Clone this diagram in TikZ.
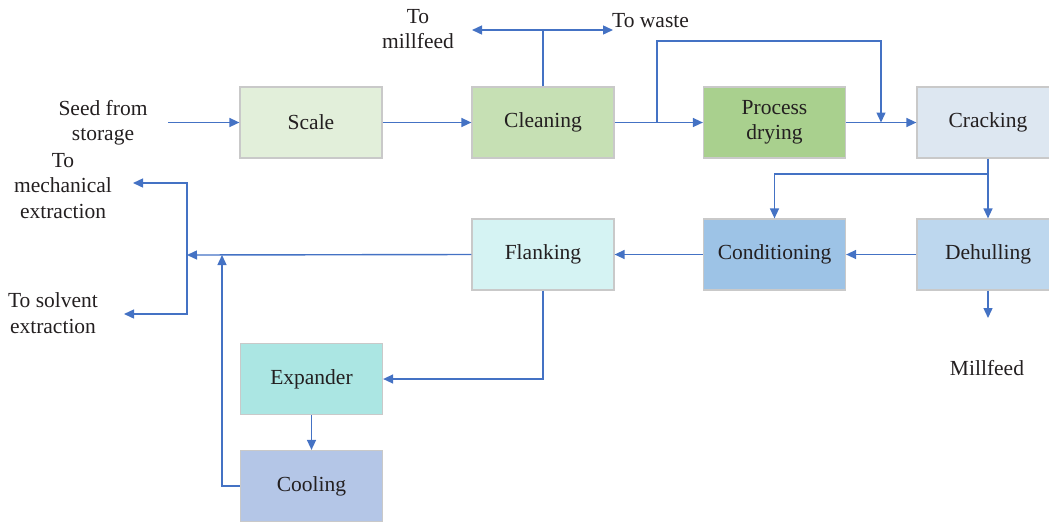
\documentclass[tikz,border=0pt]{standalone}
\usepackage{fontspec}
\setmainfont{Liberation Serif}
\usetikzlibrary{arrows.meta}
\definecolor{arrowc}{HTML}{4472C4}
\definecolor{boxline}{HTML}{C9C9C9}
\definecolor{txt}{HTML}{231F20}
\definecolor{cScale}{HTML}{E2EFDA}
\definecolor{cClean}{HTML}{C6E0B4}
\definecolor{cDry}{HTML}{A9D08E}
\definecolor{cCrack}{HTML}{DDE7F1}
\definecolor{cDehull}{HTML}{BDD7EE}
\definecolor{cCond}{HTML}{9DC3E6}
\definecolor{cFlank}{HTML}{D5F3F3}
\definecolor{cExp}{HTML}{ABE6E3}
\definecolor{cCool}{HTML}{B4C6E7}
\begin{document}
\begin{tikzpicture}[x=1pt,y=-1pt,
  every node/.style={text=txt,font=\fontsize{21.5}{25.5}\selectfont},
  procbox/.style={draw=boxline,line width=1.2pt,minimum width=142pt,minimum height=71pt,inner sep=0pt,align=center},
  lbl/.style={align=center,inner sep=0pt},
  flow/.style={draw=arrowc,line width=1.4pt},
  arr/.style={flow,-{Triangle[length=10pt,width=9pt]}}]
\useasboundingbox (0,0) rectangle (1049,523);
% boxes
\node[procbox,fill=cScale] (scale) at (311,122.5) {Scale};
\node[procbox,fill=cClean] (cleaning) at (543,122.5) {Cleaning};
\node[procbox,fill=cDry] (drying) at (774.5,122.5) {Process\\drying};
\node[procbox,fill=cCrack] (cracking) at (988,122.5) {Cracking};
\node[procbox,fill=cDehull] (dehulling) at (988,254.5) {Dehulling};
\node[procbox,fill=cCond] (conditioning) at (774.5,254.5) {Conditioning};
\node[procbox,fill=cFlank] (flanking) at (543,254.5) {Flanking};
\node[procbox,fill=cExp] (expander) at (311.5,379) {Expander};
\node[procbox,fill=cCool] (cooling) at (311.5,486) {Cooling};
% labels
\node[lbl] (seed) at (103,122.5) {Seed from\\storage};
\node[lbl] (tomill) at (418,29) {To\\millfeed};
\node[lbl,anchor=west] (towaste) at (612,21) {To waste};
\node[lbl] (millfeed) at (987,368) {Millfeed};
\node[lbl] (tomech) at (63,186) {To\\mechanical\\extraction};
\node[lbl] (tosolv) at (53,313) {To solvent\\extraction};
% coordinates
\coordinate (seedend) at (168,122.5);
\coordinate (cj) at (543,30);
\coordinate (mf) at (472,30);
\coordinate (ws) at (613,30);
\coordinate (b1) at (657,122.5);
\coordinate (b3) at (881,41);
\coordinate (b4) at (881,122.5);
\coordinate (c1) at (988,174);
\coordinate (dh) at (988,318);
\coordinate (vj) at (187,255);
\coordinate (mech) at (133,183);
\coordinate (solv) at (124,314);
\coordinate (cj2) at (222,255);
% connectors
\draw[arr] (seedend) -- (scale.west);
\draw[arr] (scale.east) -- (cleaning.west);
\draw[flow] (cleaning.north) -- (cj);
\draw[arr] (cj) -- (mf);
\draw[arr] (cj) -- (ws);
\draw[arr] (cleaning.east) -- (drying.west);
\draw[arr] (b1) |- (b3) -- (b4);
\draw[arr] (drying.east) -- (cracking.west);
\draw[arr] (cracking.south) -- (dehulling.north);
\draw[arr] (c1) -| (conditioning.north);
\draw[arr] (dehulling.west) -- (conditioning.east);
\draw[arr] (conditioning.west) -- (flanking.east);
\draw[arr] (dehulling.south) -- (dh);
\draw[arr] (flanking.west) -- (vj);
\draw[arr] (vj) |- (mech);
\draw[arr] (vj) |- (solv);
\draw[arr] (cooling.west) -| (cj2);
\draw[arr] (flanking.south) |- (expander.east);
\draw[arr] (expander.south) -- (cooling.north);
\end{tikzpicture}
\end{document}
